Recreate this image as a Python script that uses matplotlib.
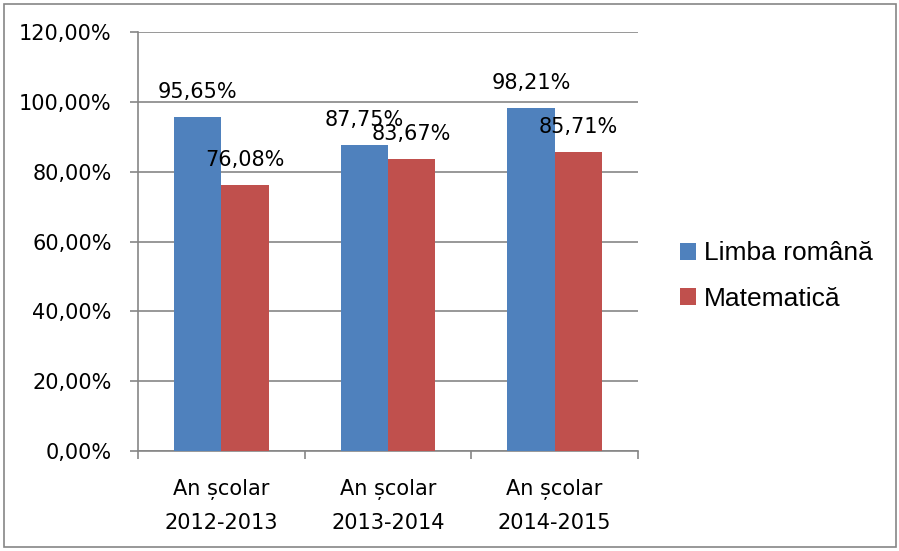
import numpy as np
import matplotlib
matplotlib.use("Agg")
import matplotlib.pyplot as plt
from matplotlib.patches import Rectangle
from matplotlib.ticker import FuncFormatter


CATEGORIES = ["An școlar\n2012-2013", "An școlar\n2013-2014", "An școlar\n2014-2015"]
ROMANA = [95.65, 87.75, 98.21]
MATEMATICA = [76.08, 83.67, 85.71]
SERIES_NAMES = ["Limba română", "Matematică"]
Y_TICKS = [0, 20, 40, 60, 80, 100, 120]

BLUE = "#4F81BD"
RED = "#C0504D"
GRID = "#868686"
FS = 15


def pct(v, _pos=None, dec=2):
    return f"{v:.{dec}f}".replace(".", ",") + "%"


def main():
    fig = plt.figure(figsize=(8.99, 5.51), dpi=100)
    ax = fig.add_axes([138 / 899, 1 - 451 / 551, (638 - 138) / 899, (451 - 32) / 551])

    x = np.arange(len(CATEGORIES))
    w = 0.285
    b1 = ax.bar(x - w / 2, ROMANA, w, color=BLUE, label=SERIES_NAMES[0], zorder=3)
    b2 = ax.bar(x + w / 2, MATEMATICA, w, color=RED, label=SERIES_NAMES[1], zorder=3)

    # data labels above each bar
    for bars, vals in ((b1, ROMANA), (b2, MATEMATICA)):
        for rect, v in zip(bars, vals):
            ax.annotate(pct(v), (rect.get_x() + rect.get_width() / 2, v),
                        xytext=(0, 13.7), textcoords="offset points",
                        ha="center", va="baseline", fontsize=FS,
                        family="DejaVu Sans", zorder=4)

    ax.set_xlim(-0.5, len(CATEGORIES) - 0.5)
    ax.set_ylim(0, 120)
    ax.set_yticks(Y_TICKS)
    ax.yaxis.set_major_formatter(FuncFormatter(pct))
    ax.grid(axis="y", color=GRID, linewidth=1.2, zorder=0)

    # category ticks sit on the boundaries, labels in the middle
    ax.set_xticks(np.arange(-0.5, len(CATEGORIES), 1.0))
    ax.set_xticklabels([])
    ax.set_xticks(x, minor=True)
    ax.set_xticklabels(CATEGORIES, minor=True, fontsize=FS, linespacing=1.8)
    ax.tick_params(axis="x", which="major", length=6, color=GRID, width=1.2)
    ax.tick_params(axis="x", which="minor", length=0, pad=20)
    ax.tick_params(axis="y", length=6, color=GRID, width=1.2, pad=13, labelsize=FS)

    for side in ("top", "right"):
        ax.spines[side].set_visible(False)
    for side in ("left", "bottom"):
        ax.spines[side].set_color(GRID)
        ax.spines[side].set_linewidth(1.2)

    ax.legend(loc="center left", bbox_to_anchor=(680 / 899, 1 - 276 / 551),
              bbox_transform=fig.transFigure, frameon=False,
              prop={"family": "Liberation Sans", "size": 19},
              handlelength=0.6, handleheight=0.6, handletextpad=0.3,
              labelspacing=0.8, borderpad=0, borderaxespad=0)

    # outer chart border
    fig.add_artist(Rectangle((4 / 899, 4 / 551), 892 / 899, 543 / 551,
                             transform=fig.transFigure, fill=False,
                             edgecolor=GRID, linewidth=1.2))

    fig.savefig("out.png", dpi=100)
    plt.close(fig)


if __name__ == "__main__":
    main()
